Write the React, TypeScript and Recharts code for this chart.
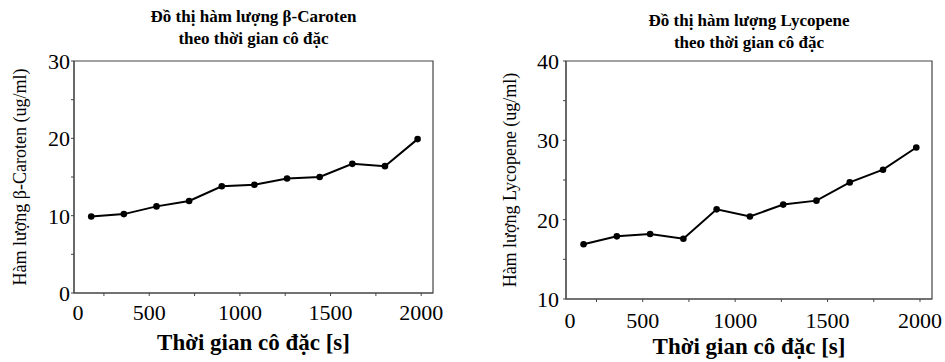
import { LineChart, Line, XAxis, YAxis, ReferenceArea } from 'recharts'

const TIME_S = [180, 360, 540, 720, 900, 1080, 1260, 1440, 1620, 1800, 1980]
const CAROTEN = [9.9, 10.2, 11.2, 11.9, 13.8, 14.0, 14.8, 15.0, 16.7, 16.4, 19.9]
const LYCOPENE = [16.9, 17.9, 18.2, 17.6, 21.3, 20.4, 21.9, 22.4, 24.7, 26.3, 29.1]
const X_TICKS = [0, 250, 500, 750, 1000, 1250, 1500, 1750, 2000]
const CAROTEN_TICKS = [0, 5, 10, 15, 20, 25, 30]
const LYCOPENE_TICKS = [10, 15, 20, 25, 30, 35, 40]
const X_DOMAIN = [85, 2065]

const SERIF = '"Liberation Serif", "Times New Roman", serif'
const AXIS = '#444'

// minor ticks every 250, labels every 500; the "0" label sits at the left edge like the original
function XTick({ x, y, payload, left, dy }: any) {
  const v = payload.value
  const inside = x >= left - 0.5
  return (
    <g>
      {inside && <line x1={x} x2={x} y1={y - 3} y2={y} stroke={AXIS} />}
      {v % 500 === 0 && (
        <text x={Math.max(x, left + 4)} y={y + dy} textAnchor="middle" fontFamily={SERIF} fontSize={22} fill="#000">
          {v}
        </text>
      )}
    </g>
  )
}

function YTick({ x, y, payload, dx }: any) {
  const v = payload.value
  return (
    <g>
      <line x1={x} x2={x + 3} y1={y} y2={y} stroke={AXIS} />
      {v % 10 === 0 && (
        <text x={x - dx} y={y + 8} textAnchor="end" fontFamily={SERIF} fontSize={22} fill="#000">
          {v}
        </text>
      )}
    </g>
  )
}

interface PanelProps {
  left: number
  values: number[]
  yTicks: number[]
  title: string
  yLabel: string
  plotLeft: number
  plotRight: number
  plotTop: number
  plotBottom: number
  xDy: number
  yDx: number
  titleY: number
  yLabelX: number
  xLabelY: number
}

function Panel(p: PanelProps) {
  const data = TIME_S.map((t, i) => ({ t, v: p.values[i] }))
  const yDomain = [p.yTicks[0], p.yTicks[p.yTicks.length - 1]]
  const cx = (p.plotLeft + p.plotRight) / 2
  return (
    <div style={{ position: 'absolute', left: p.left, top: 0, width: 470, height: 362 }}>
      <div style={{ position: 'absolute', left: cx, top: p.titleY, transform: 'translateX(-50%)', whiteSpace: 'nowrap', textAlign: 'center', fontFamily: SERIF, fontWeight: 'bold', fontSize: 17, lineHeight: '22px' }}>
        {p.title}<br />theo thời gian cô đặc
      </div>
      <div style={{ position: 'absolute', left: p.yLabelX, top: (p.plotTop + p.plotBottom) / 2, transform: 'translate(-50%, -50%) rotate(-90deg)', whiteSpace: 'nowrap', fontFamily: SERIF, fontSize: 18 }}>
        {p.yLabel}
      </div>
      <div style={{ position: 'absolute', left: cx, top: p.xLabelY, transform: 'translate(-50%, -50%)', whiteSpace: 'nowrap', fontFamily: SERIF, fontWeight: 'bold', fontSize: 23 }}>
        Thời gian cô đặc [s]
      </div>
      <LineChart
        width={470}
        height={362}
        data={data}
        margin={{ top: p.plotTop, right: 470 - p.plotRight, bottom: 362 - p.plotBottom - 30, left: 0 }}
      >
        <XAxis
          dataKey="t"
          type="number"
          domain={X_DOMAIN}
          allowDataOverflow
          ticks={X_TICKS}
          interval={0}
          height={30}
          tickSize={3}
          tickMargin={0}
          tickLine={false}
          axisLine={{ stroke: AXIS }}
          tick={(tp: any) => <XTick {...tp} left={p.plotLeft} dy={p.xDy} />}
        />
        <YAxis
          type="number"
          domain={yDomain}
          ticks={p.yTicks}
          interval={0}
          width={p.plotLeft}
          tickSize={3}
          tickMargin={0}
          tickLine={false}
          axisLine={{ stroke: AXIS }}
          tick={(tp: any) => <YTick {...tp} dx={p.yDx} />}
        />
        <ReferenceArea x1={X_DOMAIN[0]} x2={X_DOMAIN[1]} y1={yDomain[0]} y2={yDomain[1]} fill="none" stroke={AXIS} strokeWidth={1.2} />
        <Line
          dataKey="v"
          type="linear"
          stroke="#000"
          strokeWidth={2}
          dot={{ r: 3.3, fill: '#000', stroke: '#000', strokeWidth: 0 }}
          isAnimationActive={false}
        />
      </LineChart>
    </div>
  )
}

export default function App() {
  return (
    <div style={{ position: 'fixed', left: 0, top: 0, width: 945, height: 362, background: '#fff' }}>
      <Panel
        left={0}
        values={CAROTEN}
        yTicks={CAROTEN_TICKS}
        title="Đồ thị hàm lượng β-Caroten"
        yLabel="Hàm lượng β-Caroten (ug/ml)"
        plotLeft={74}
        plotRight={433}
        plotTop={61}
        plotBottom={293}
        xDy={24}
        yDx={1}
        titleY={6}
        yLabelX={20}
        xLabelY={343}
      />
      <Panel
        left={475}
        values={LYCOPENE}
        yTicks={LYCOPENE_TICKS}
        title="Đồ thị hàm lượng Lycopene"
        yLabel="Hàm lượng Lycopene (ug/ml)"
        plotLeft={91}
        plotRight={457}
        plotTop={61}
        plotBottom={299}
        xDy={26}
        yDx={4}
        titleY={10}
        yLabelX={35}
        xLabelY={347}
      />
    </div>
  )
}
